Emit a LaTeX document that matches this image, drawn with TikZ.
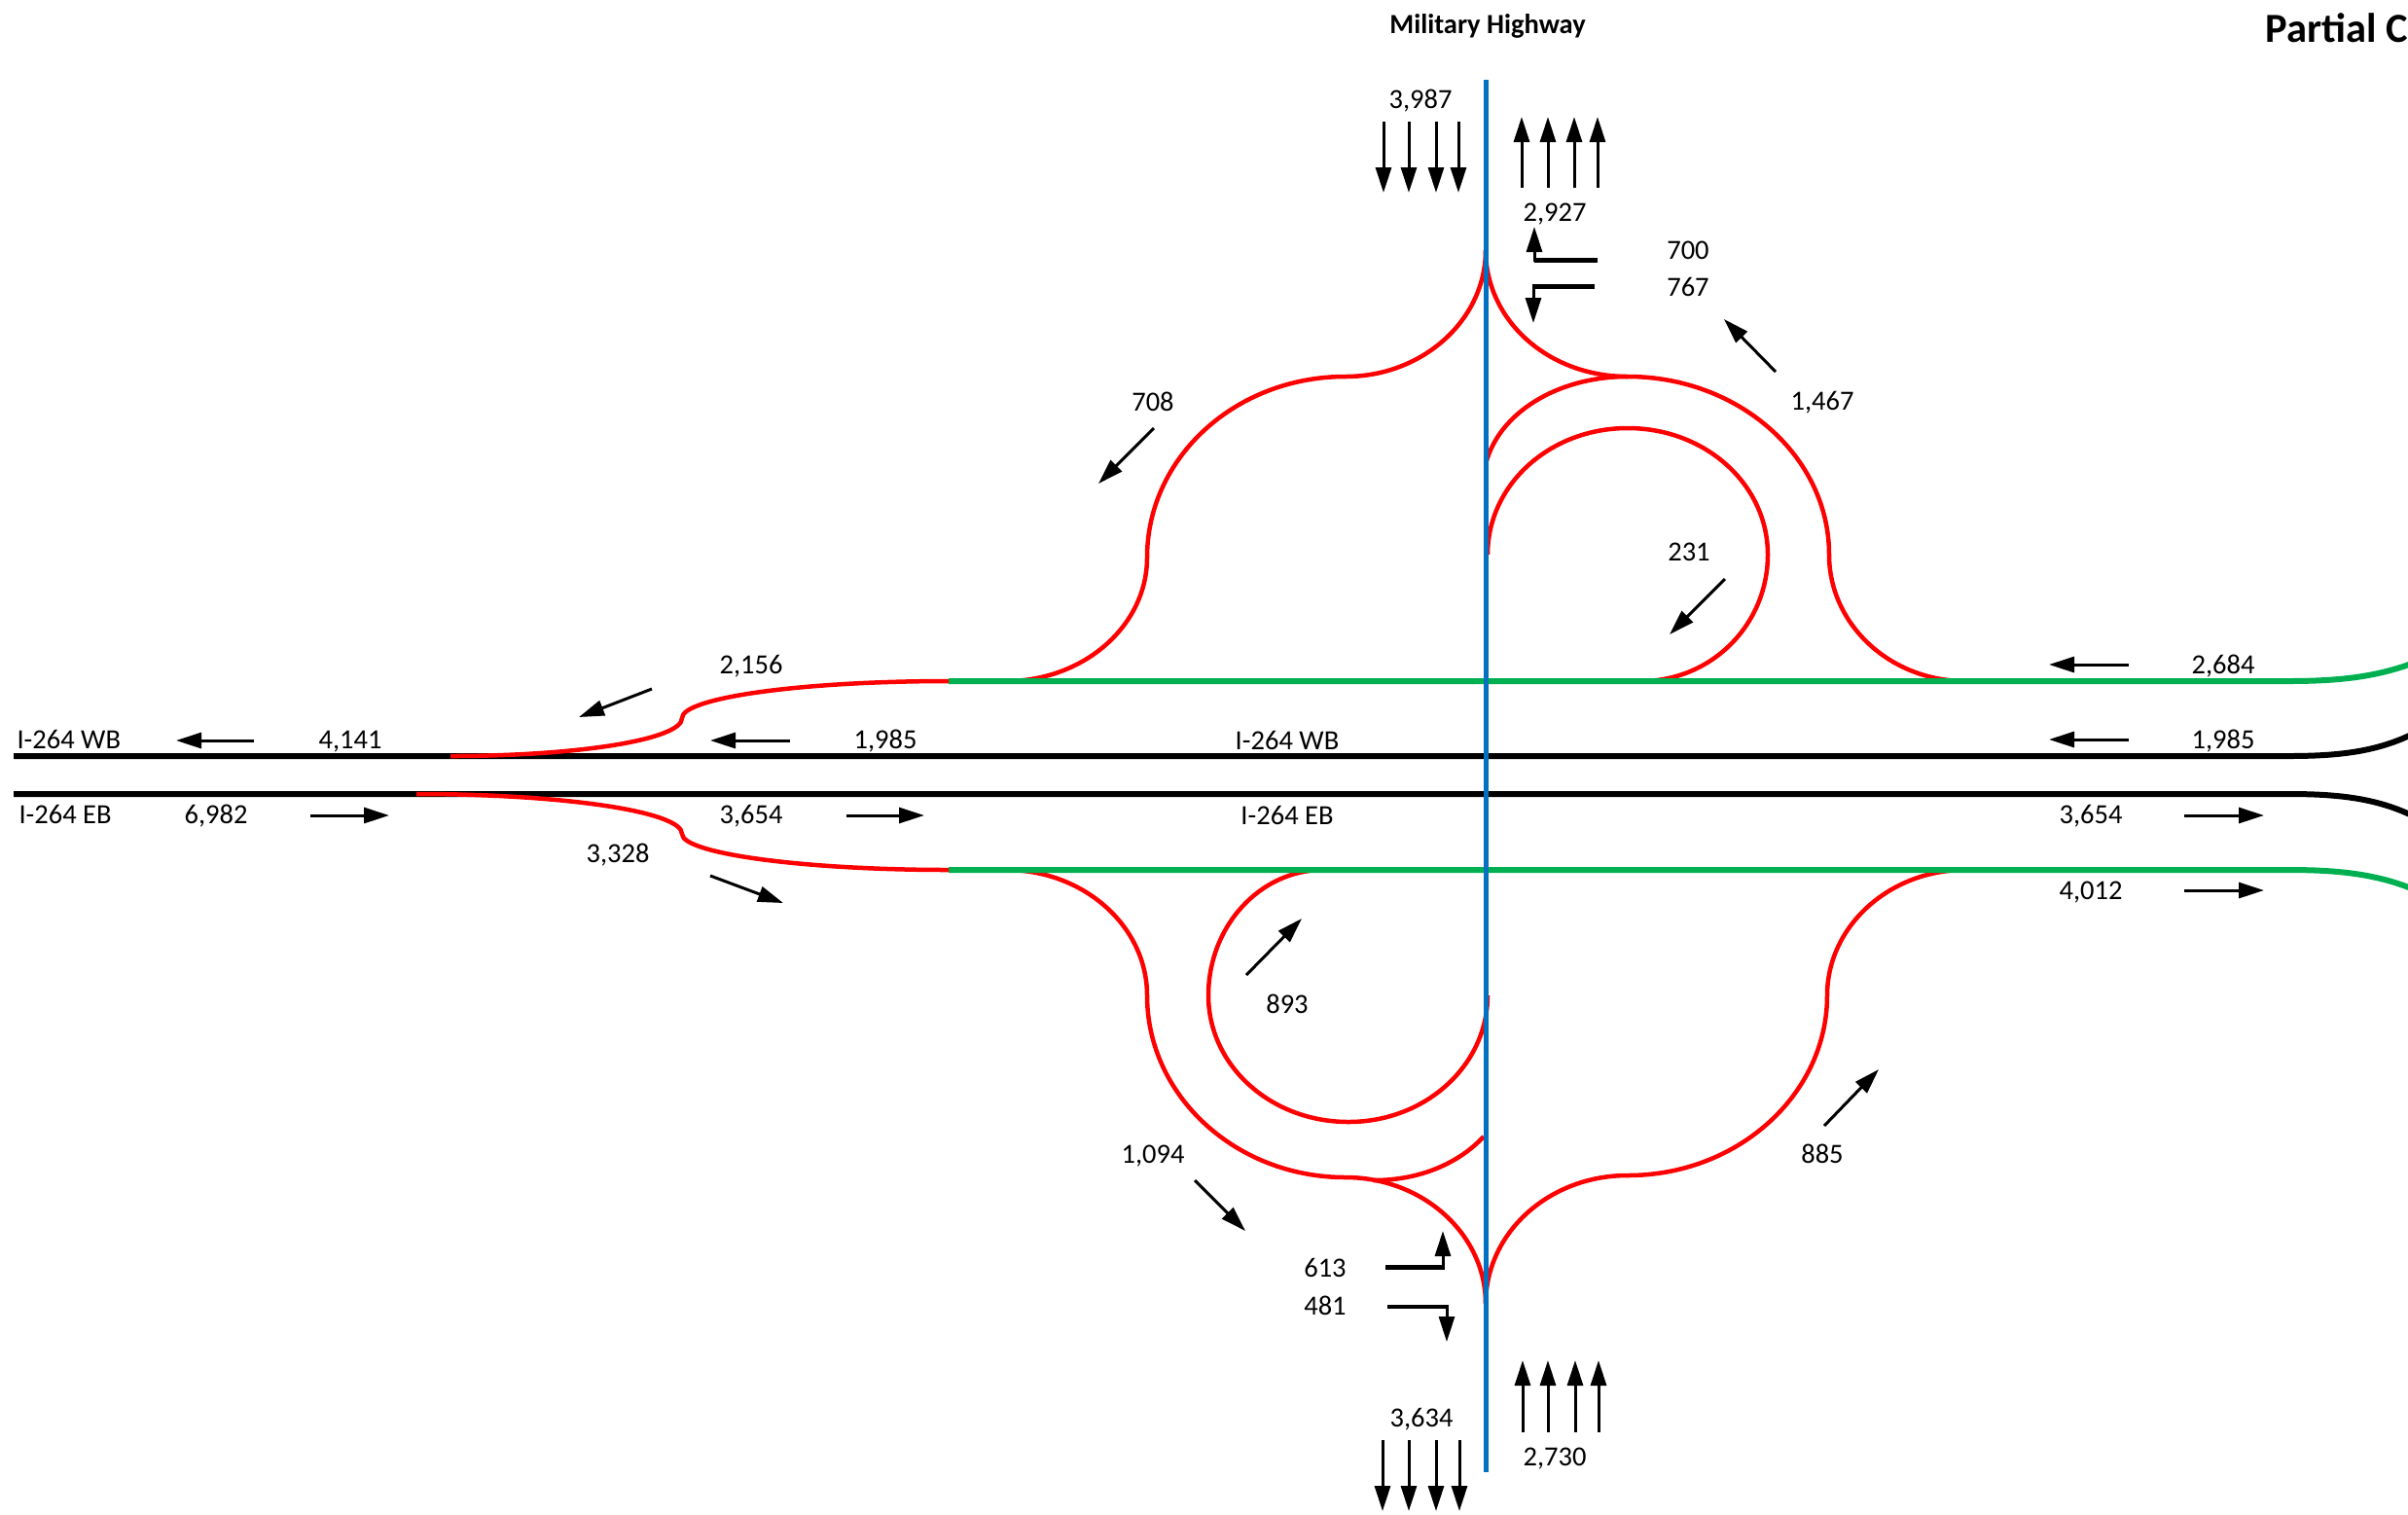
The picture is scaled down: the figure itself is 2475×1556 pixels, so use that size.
\documentclass[tikz,border=0pt]{standalone}
\usepackage{fontspec}
\setmainfont{Carlito}
\usetikzlibrary{arrows.meta}
\definecolor{rampred}{RGB}{255,0,0}
\definecolor{roadgreen}{RGB}{0,176,80}
\definecolor{roadblue}{RGB}{0,112,192}
\begin{document}
\begin{tikzpicture}[x=0.4pt,y=-0.4pt,
  ramp/.style={draw=rampred,line width=1.8pt},
  grn/.style={draw=roadgreen,line width=2.4pt},
  road/.style={draw=black,line width=2.4pt},
  art/.style={draw=roadblue,line width=2pt},
  flow/.style={-{Triangle[length=10.4pt,width=6.4pt]},line width=1.2pt},
  bar/.style={line width=2pt},
  lab/.style={anchor=base,inner sep=0pt,font=\fontsize{11.4}{13}\selectfont},
  labw/.style={anchor=base west,inner sep=0pt,font=\fontsize{11.4}{13}\selectfont}]
\useasboundingbox (0,0) rectangle (2475,1556);
\clip (0,0) rectangle (2475,1556);

% ---- red ramps (interchange) ----
\draw[ramp] (1034,700) .. controls (1114,700) and (1179,643) .. (1179,573)
  .. controls (1179,470) and (1270,387) .. (1383,387)
  .. controls (1462,387) and (1527,329) .. (1527,257);
\draw[ramp] (1527,257) .. controls (1527,329) and (1591,387) .. (1673,387)
  .. controls (1787,387) and (1880,469) .. (1880,570)
  .. controls (1880,642) and (1943,700) .. (2020,700);
\draw[ramp] (1673,387) .. controls (1600,387) and (1540,425) .. (1527,477);
\draw[ramp] (1529,570) .. controls (1529,498) and (1593,440) .. (1673,440)
  .. controls (1753,440) and (1817,498) .. (1817,570)
  .. controls (1817,642) and (1759,700) .. (1687,700);
\draw[ramp] (1034,894) .. controls (1114,894) and (1179,952) .. (1179,1023)
  .. controls (1179,1126) and (1270,1210) .. (1383,1210)
  .. controls (1462,1210) and (1527,1268) .. (1527,1340);
\draw[ramp] (1360,894) .. controls (1295,894) and (1242,952) .. (1242,1023)
  .. controls (1242,1095) and (1306,1153) .. (1386,1153)
  .. controls (1465,1153) and (1529,1095) .. (1529,1023);
\draw[ramp] (1525,1168) .. controls (1500,1195) and (1460,1213) .. (1412,1213);
\draw[ramp] (2020,894) .. controls (1942,894) and (1878,952) .. (1878,1023)
  .. controls (1878,1125) and (1786,1208) .. (1673,1208)
  .. controls (1592,1208) and (1527,1267) .. (1527,1340);

% ---- green collector roads ----
\draw[grn] (975,700) -- (2352,700) .. controls (2430,700) and (2480,690) .. (2540,650);
\draw[grn] (975,894) -- (2352,894) .. controls (2430,894) and (2480,904) .. (2540,948);
% ---- I-264 mainline ----
\draw[road] (14,777) -- (2352,777) .. controls (2430,777) and (2480,767) .. (2540,712);
\draw[road] (14,816) -- (2352,816) .. controls (2430,816) and (2480,826) .. (2540,880);
% ---- red ramps joining the mainline (drawn on top) ----
\draw[ramp] (975,700) .. controls (824,700) and (701,717) .. (701,738)
  .. controls (701,760) and (594,777) .. (463,777);
\draw[ramp] (428,816) .. controls (579,816) and (701,834) .. (701,857)
  .. controls (701,877) and (824,894) .. (975,894);
% ---- Military Highway ----
\draw[art] (1527,82) -- (1527,1513);

% ---- through arrows on Military Highway ----
\foreach \x in {1422,1448,1476,1499} \draw[flow] (\x,125) -- (\x,198);
\foreach \x in {1564,1591,1618,1642} \draw[flow] (\x,193) -- (\x,120);
\foreach \x in {1421,1448,1476,1500} \draw[flow] (\x,1480) -- (\x,1553);
\foreach \x in {1565,1591,1619,1643} \draw[flow] (\x,1472) -- (\x,1398);

% ---- turn arrows ----
\draw[bar] (1642,267) -- (1577,267); \draw[flow] (1577,269) -- (1577,233);
\draw[bar] (1639,294) -- (1575,294); \draw[flow] (1576,292) -- (1576,332);
\draw[bar] (1424,1302) -- (1485,1302); \draw[flow] (1483,1304) -- (1483,1265);
\draw[bar,line width=1.4pt] (1426,1343) -- (1488,1343); \draw[flow] (1487,1341) -- (1487,1379);

% ---- ramp arrows ----
\draw[flow] (1186,440) -- (1129,497);
\draw[flow] (1825,382) -- (1772,328);
\draw[flow] (1773,595) -- (1716,652);
\draw[flow] (670,708) -- (595,737);
\draw[flow] (730,900) -- (805,928);
\draw[flow] (1281,1002) -- (1338,944);
\draw[flow] (1875,1157) -- (1931,1099);
\draw[flow] (1228,1213) -- (1280,1265);

% ---- mainline arrows ----
\draw[flow] (261,761) -- (181,761);
\draw[flow] (812,761) -- (730,761);
\draw[flow] (2188,683) -- (2106,683);
\draw[flow] (2188,760) -- (2106,760);
\draw[flow] (319,838) -- (400,838);
\draw[flow] (870,838) -- (950,838);
\draw[flow] (2245,838) -- (2327,838);
\draw[flow] (2245,915) -- (2327,915);

% ---- texts ----
\node[anchor=base,inner sep=0pt,font=\bfseries\fontsize{11.4}{13}\selectfont] (mil) at (1529,34) {Military Highway};
\node[anchor=base west,inner sep=0pt,font=\bfseries\fontsize{17}{20}\selectfont] (title) at (2328,43) {Partial C};
\node[lab] (t3987) at (1460,111) {3,987};
\node[lab] (t2927) at (1598,227) {2,927};
\node[lab] (t700) at (1735,266) {700};
\node[lab] (t767) at (1735,304) {767};
\node[lab] (t1467) at (1873,421) {1,467};
\node[lab] (t708) at (1185,422) {708};
\node[lab] (t231) at (1736,576) {231};
\node[lab] (t2156) at (772,692) {2,156};
\node[lab] (t2684) at (2285,692) {2,684};
\node[labw] (wbl) at (17,769) {I-264 WB};
\node[lab] (t4141) at (360,769) {4,141};
\node[lab] (t1985a) at (910,769) {1,985};
\node[lab] (wbm) at (1323,770) {I-264 WB};
\node[lab] (t1985b) at (2285,769) {1,985};
\node[labw] (ebl) at (19,846) {I-264 EB};
\node[lab] (t6982) at (222,846) {6,982};
\node[lab] (t3654a) at (772,846) {3,654};
\node[lab] (ebm) at (1323,847) {I-264 EB};
\node[lab] (t3654b) at (2149,846) {3,654};
\node[lab] (t3328) at (635,886) {3,328};
\node[lab] (t4012) at (2149,924) {4,012};
\node[lab] (t893) at (1323,1041) {893};
\node[lab] (t1094) at (1185,1195) {1,094};
\node[lab] (t885) at (1873,1195) {885};
\node[lab] (t613) at (1362,1312) {613};
\node[lab] (t481) at (1362,1351) {481};
\node[lab] (t3634) at (1461,1466) {3,634};
\node[lab] (t2730) at (1598,1506) {2,730};
\end{tikzpicture}
\end{document}
